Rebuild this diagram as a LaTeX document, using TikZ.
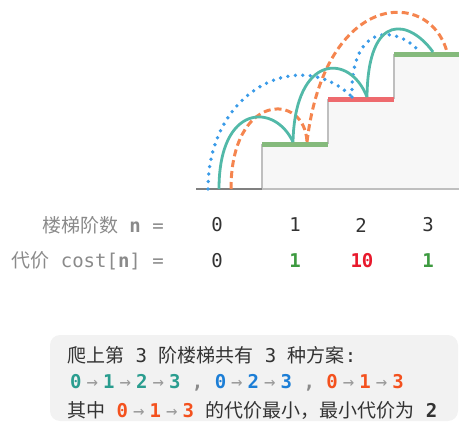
\documentclass[tikz,border=0pt]{standalone}
\usepackage{fontspec}
\setmonofont{DejaVu Sans Mono}
\newfontfamily\cjk{Noto Sans CJK SC}
\newcommand\zh[1]{{\cjk #1}}
\definecolor{cteal}{HTML}{52B9A8}
\definecolor{cblue}{HTML}{3A9BE8}
\definecolor{corange}{HTML}{F5854F}
\definecolor{cgbar}{HTML}{85BA7C}
\definecolor{crbar}{HTML}{EE6A6E}
\definecolor{clab}{HTML}{8A8A8A}
\definecolor{carrow}{HTML}{9A9A9A}
\definecolor{cnum}{HTML}{333333}
\definecolor{cgtxt}{HTML}{3D9A40}
\definecolor{crtxt}{HTML}{E8192C}
\definecolor{pteal}{HTML}{2A9D8F}
\definecolor{pblue}{HTML}{1C7ED6}
\definecolor{porange}{HTML}{F4511E}
\definecolor{cbox}{HTML}{F2F2F2}
\newcommand\ar{\makebox[21.5pt]{\color{carrow}\mdseries→}}
\begin{document}
\begin{tikzpicture}[x=1pt,y=-1pt,
  every node/.style={inner sep=0pt, font=\fontsize{19}{22}\selectfont\ttfamily},
  lab/.style={anchor=east, text=clab},
  num/.style={text=cnum},
  bnum/.style={font=\fontsize{19}{22}\selectfont\ttfamily\bfseries},
  bar/.style={line width=5pt},
  jump/.style={line width=2.8pt, cteal},
  jumpdot/.style={line width=3.8pt, cblue, line cap=round, dash pattern=on 0pt off 7.5pt},
  jumpdash/.style={line width=3pt, corange, dash pattern=on 7pt off 4pt},
  txt/.style={anchor=west, text=cnum}]
\useasboundingbox (0,0) rectangle (459,423);
% stairs
\fill[white!97!black] (262,189) -- (262,144) -- (328,144) -- (328,99) -- (394,99) -- (394,54) -- (459,54) -- (459,189) -- cycle;
\draw[black!25, line width=1.2pt] (262,189) -- (262,144) (328,144) -- (328,99) (394,99) -- (394,54) (262,189) -- (459,189);
\draw[black!50, line width=1.5pt] (196,189) -- (262,189);
\draw[bar, cgbar] (262,144) -- (328,144);
\draw[bar, crbar] (328,99) -- (394,99);
\draw[bar, cgbar] (394,54.5) -- (459,54.5);
% jump points
\coordinate (t0) at (219,189);
\coordinate (t1) at (293,142);
\coordinate (t2) at (367,97);
\coordinate (t3) at (433,52);
\coordinate (b0) at (208,189);
\coordinate (b2) at (352,97);
\coordinate (b3) at (420,52);
\coordinate (o0) at (231,189);
\coordinate (o1) at (307,142);
\coordinate (o3) at (447,52);
% curves
\draw[jumpdot] (b0) .. controls (208,90) and (300,45) .. (b2);
\draw[jumpdot] (b2) .. controls (350,24) and (395,24) .. (b3);
\draw[jumpdash] (o0) .. controls (231,92) and (305,92) .. (o1);
\draw[jumpdash] (o1) .. controls (325,-10) and (430,-12) .. (o3);
\draw[jump] (t0) .. controls (219,103) and (275,103) .. (t1);
\draw[jump] (t1) .. controls (295,53) and (350,53) .. (t2);
\draw[jump] (t2) .. controls (368,10) and (410,20) .. (t3);
% labels
\node[lab] (l1) at (164,225) {\zh{楼梯阶数} \textbf{n} =};
\node[lab] (l2) at (164,261) {\zh{代价} cost[\textbf{n}] =};
\node[num] (n0) at (217,225) {0};
\node[num] (n1) at (295,225) {1};
\node[num] (n2) at (361,225) {2};
\node[num] (n3) at (428,225) {3};
\node[num] (c0) at (217,261) {0};
\node[bnum, text=cgtxt] (c1) at (295,261) {1};
\node[bnum, text=crtxt] (c2) at (362,261) {10};
\node[bnum, text=cgtxt] (c3) at (428,261) {1};
% box
\fill[cbox, rounded corners=10pt] (50,335) rectangle (458,421);
\node[txt] (line1) at (67,355) {\zh{爬上第} 3 \zh{阶楼梯共有} 3 \zh{种方案}:};
\node[txt] (line2) at (70,383) {\bfseries\color{pteal}0\ar1\ar2\ar3 \color{clab}, \color{pblue}0\ar2\ar3 \color{clab}, \color{porange}0\ar1\ar3};
\node[txt] (line3) at (67,410) {\zh{其中} {\bfseries\color{porange}0\ar1\ar3} \zh{的代价最小，最小代价为} \textbf{2}};
\end{tikzpicture}
\end{document}
